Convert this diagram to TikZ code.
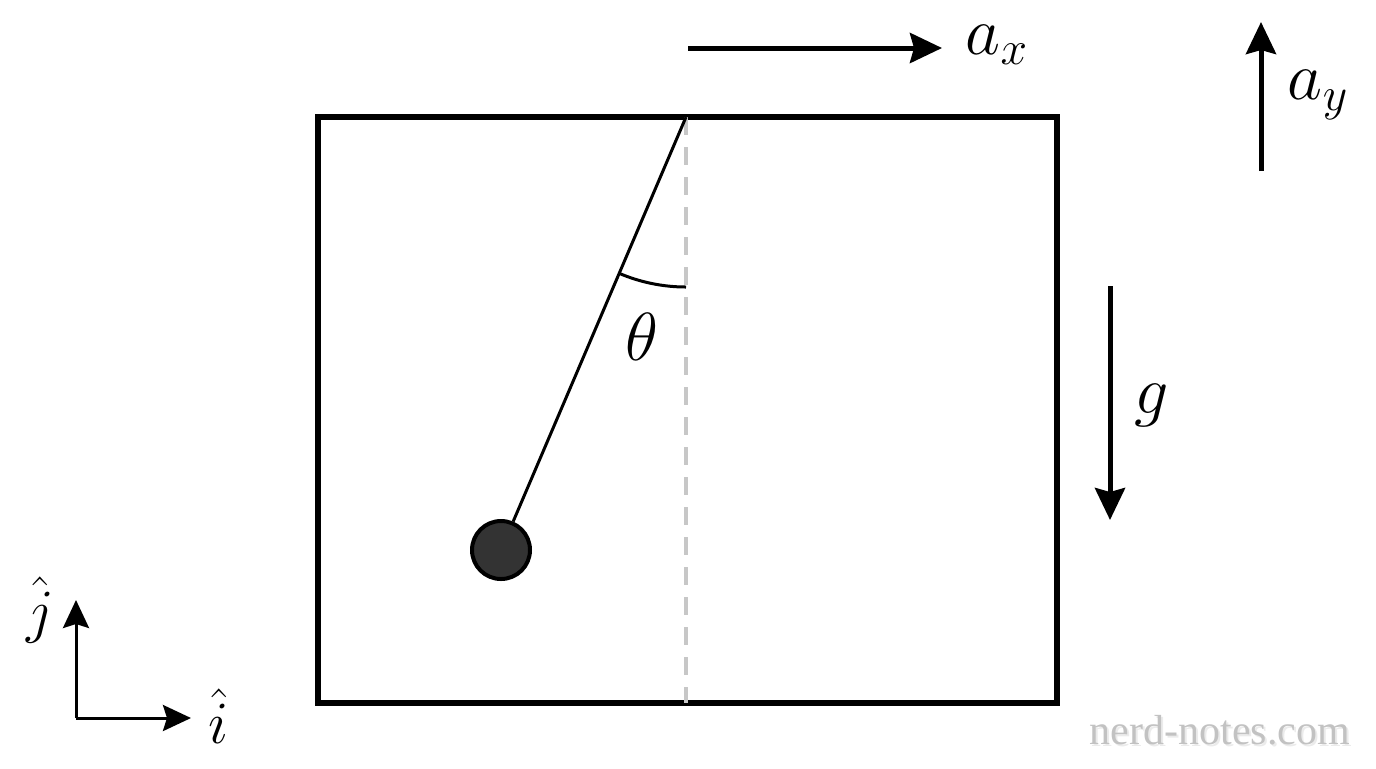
\RequirePackage{fix-cm}
\documentclass[tikz,border=0pt]{standalone}
\usepackage{fontspec}
\newfontfamily\wmfont{Liberation Serif}
\usetikzlibrary{arrows.meta}
\begin{document}
\begin{tikzpicture}[x=0.5pt,y=-0.5pt,
  vec/.style={line width=2.5pt,-{Stealth[length=16pt,width=15pt,inset=2pt]}},
  lbl/.style={font=\fontsize{34}{40}\selectfont,inner sep=0pt},
  axlbl/.style={font=\fontsize{30}{36}\selectfont,inner sep=0pt},
  frame/.style={line width=3pt},
  plumb/.style={line width=2pt,draw=black!22,dash pattern=on 9pt off 6pt},
  string/.style={line width=1.5pt},
  bobstyle/.style={circle,minimum size=29pt,inner sep=0pt,fill=black!80,draw=black,line width=2pt}
]
\useasboundingbox (0,0) rectangle (1376,768);
% box
\coordinate (bl) at (318,703);
\coordinate (tr) at (1057,117);
\draw[frame] (bl) rectangle (tr);
% pivot and plumb line
\coordinate (pivot) at (686,117);
\coordinate (floor) at (686,703);
\draw[plumb] (pivot) -- (floor);
% bob and string
\node[bobstyle] (bob) at (501,550) {};
\draw[string] (pivot) -- (bob);
% angle arc
\draw[line width=1.5pt] (686,287) arc[start angle=90,end angle=113.1,radius=170];
\node[lbl] (theta) at (642,337) {$\theta$};
% a_x
\coordinate (ax0) at (688,48);
\coordinate (ax1) at (942,48);
\draw[vec] (ax0) -- (ax1);
\node[lbl] (axl) at (997,45) {$a_x$};
% a_y
\coordinate (ay0) at (1261,171);
\coordinate (ay1) at (1261,22);
\draw[vec] (ay0) -- (ay1);
\node[lbl] (ayl) at (1318,95) {$a_y$};
% g
\coordinate (g0) at (1110,286);
\coordinate (g1) at (1110,520);
\draw[vec] (g0) -- (g1);
\node[lbl] (gl) at (1152,405) {$g$};
% axes
\coordinate (o) at (76,718);
\coordinate (ix) at (191,718);
\coordinate (jy) at (76,600);
\draw[line width=1.5pt,-{Stealth[length=14pt,width=13pt,inset=2pt]}] (o) -- (ix);
\draw[line width=1.5pt,-{Stealth[length=14pt,width=13pt,inset=2pt]}] (o) -- (jy);
\node[axlbl] (il) at (219,716) {$\hat{i}$};
\node[axlbl] (jl) at (40,610) {$\hat{j}$};
% watermark
\node[font=\wmfont\fontsize{21}{24}\selectfont,text=black!8,inner sep=0pt] (wmsh) at (1222,732) {nerd-notes.com};
\node[font=\wmfont\fontsize{21}{24}\selectfont,text=black!24,inner sep=0pt] (wm) at (1220,730) {nerd-notes.com};
\end{tikzpicture}
\end{document}
